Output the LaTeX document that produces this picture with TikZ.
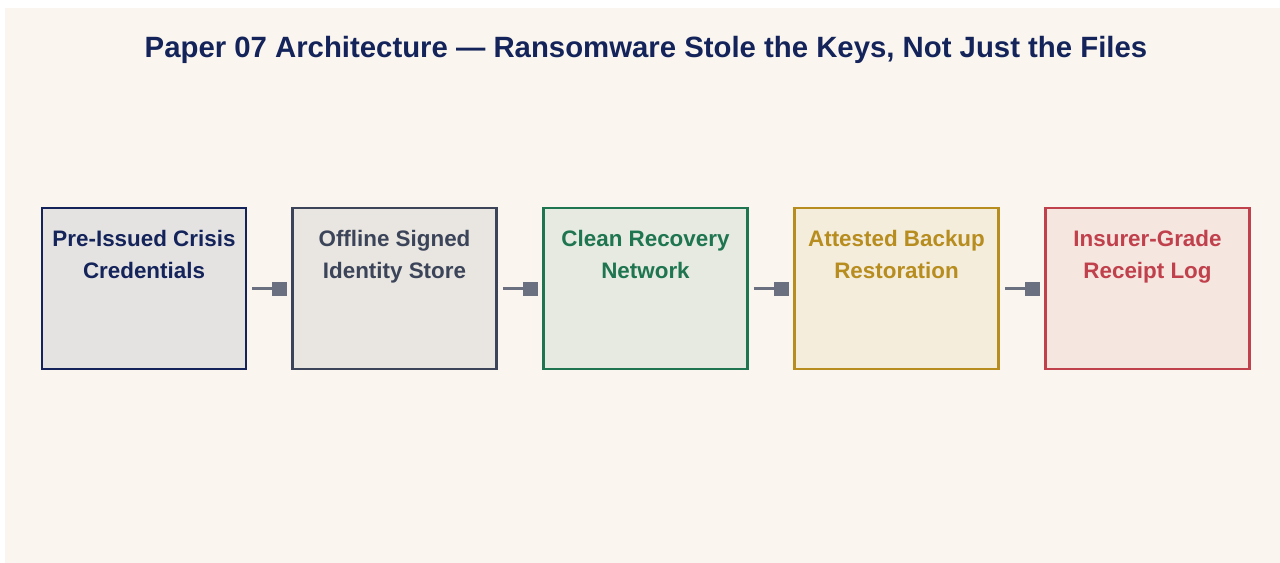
\documentclass[tikz,border=0pt]{standalone}
\usepackage{fontspec}
\setmainfont{Liberation Sans}
\usetikzlibrary{positioning,arrows.meta}

\definecolor{paper}{HTML}{FAF6EF}
\definecolor{ink}{HTML}{14245A}
\definecolor{slate}{HTML}{3B4459}
\definecolor{moss}{HTML}{1F7550}
\definecolor{gold}{HTML}{B88D1F}
\definecolor{brick}{HTML}{C0404C}
\definecolor{linkgray}{HTML}{6B7080}

\tikzset{
  stage/.style={draw=#1, fill=#1!9!paper, line width=2.2pt,
    minimum width=153pt, minimum height=120.75pt, inner sep=0pt},
  stagetext/.style={text=#1, font=\bfseries\fontsize{16.8}{24}\selectfont,
    align=center, inner sep=0pt},
  link/.style={draw=linkgray, line width=2.6pt,
    -{Square[length=11pt,width=10.5pt]}, shorten <=3.75pt, shorten >=3pt}
}

\begin{document}
\begin{tikzpicture}[x=0.75pt, y=-0.75pt]
  % canvas
  \useasboundingbox (0,0) rectangle (1280,563);
  \fill[white] (0,0) rectangle (1280,563);
  \fill[paper] (5,8) rectangle (1280,563);

  \node[text=ink, font=\bfseries\fontsize{22}{26}\selectfont] (title)
    at (646,50) {Paper 07 Architecture --- Ransomware Stole the Keys, Not Just the Files};

  % stages
  \node[stage=ink]   (creds)   at (144,288.5)    {};
  \node[stage=slate] (store)   at (394.5,288.5)  {};
  \node[stage=moss]  (network) at (645.5,288.5)  {};
  \node[stage=gold]  (backup)  at (896.5,288.5)  {};
  \node[stage=brick] (receipt) at (1147.5,288.5) {};

  \node[stagetext=ink,   below=17.8pt of creds.north]   (credsT)   {Pre-Issued Crisis\\Credentials};
  \node[stagetext=slate, below=17.8pt of store.north]   (storeT)   {Offline Signed\\Identity Store};
  \node[stagetext=moss,  below=17.8pt of network.north] (networkT) {Clean Recovery\\Network};
  \node[stagetext=gold,  below=17.8pt of backup.north]  (backupT)  {Attested Backup\\Restoration};
  \node[stagetext=brick, below=17.8pt of receipt.north] (receiptT) {Insurer-Grade\\Receipt Log};

  % links
  \draw[link] (creds.east) -- (store.west);
  \draw[link] (store.east) -- (network.west);
  \draw[link] (network.east) -- (backup.west);
  \draw[link] (backup.east) -- (receipt.west);
\end{tikzpicture}
\end{document}
